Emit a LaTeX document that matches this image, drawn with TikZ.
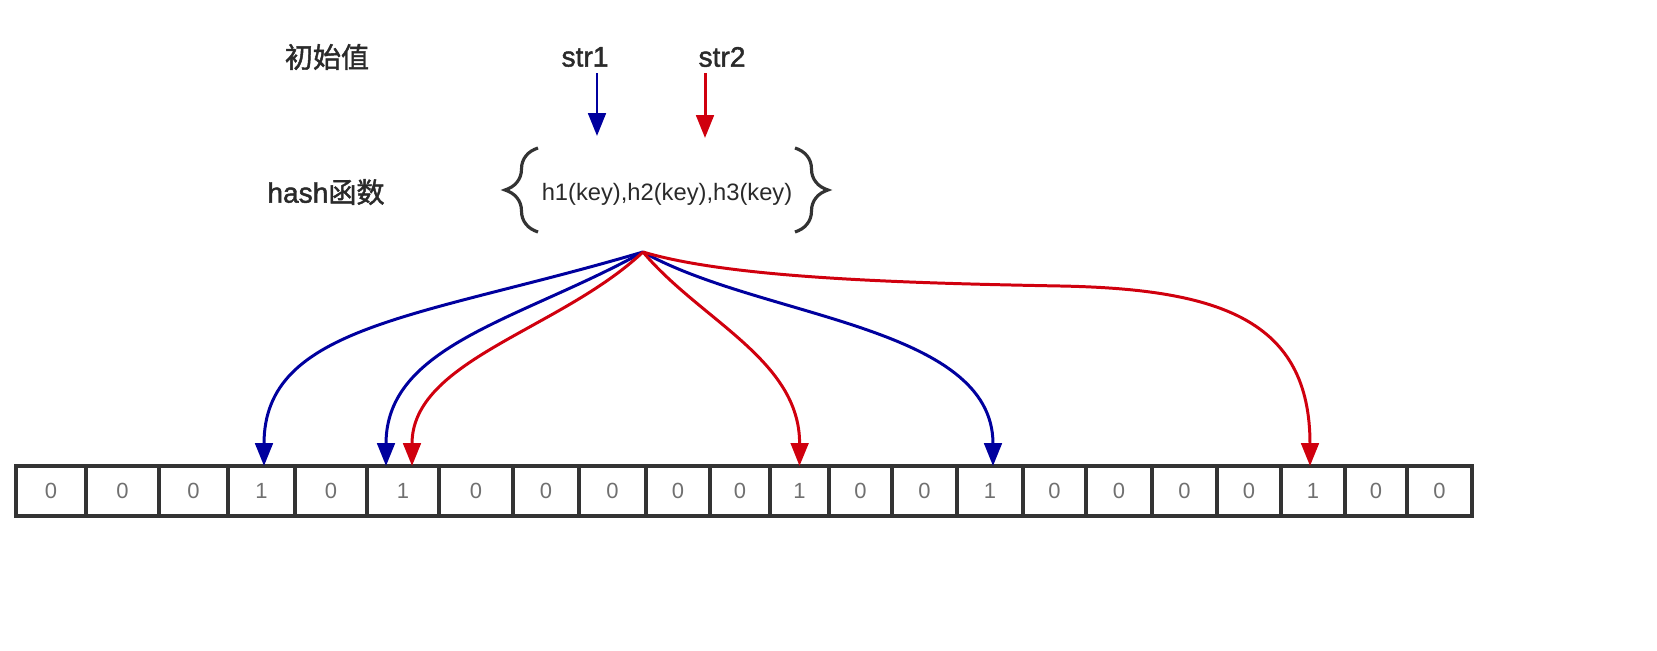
\documentclass[tikz,border=0pt]{standalone}
\usepackage{fontspec}
\setmainfont{Liberation Sans}
\newfontfamily\labfont[FakeBold=1.6]{Liberation Sans}
\newfontfamily\labcjk[FakeBold=1.6]{Noto Sans CJK SC}
\usetikzlibrary{arrows.meta,decorations.pathreplacing}
\definecolor{hblue}{HTML}{00009E}
\definecolor{hred}{HTML}{D0000E}
\definecolor{cellline}{HTML}{333333}
\definecolor{digit}{HTML}{707070}
\definecolor{labtext}{HTML}{2A2A2A}
\begin{document}
\begin{tikzpicture}[x=0.02cm,y=-0.02cm,
  cell/.style={draw=cellline,line width=1.8pt,inner sep=0pt,outer sep=0pt,minimum height=1cm,text=digit,font=\fontsize{12.5}{14}\selectfont},
  lab/.style={font=\labfont\fontsize{16}{18}\selectfont,text=labtext},
  harr/.style={line width=1.7pt,-{Triangle[length=13pt,width=10pt]}},
  brc/.style={decorate,decoration={brace,amplitude=0.66cm},line width=1.8pt,draw=cellline}]
\useasboundingbox (0,0) rectangle (1657,651);

% labels
\node[lab] (init) at (327,57) {\labcjk 初始值};
\node[lab] (s1) at (585,57) {str1};
\node[lab] (s2) at (722,57) {str2};
\node[lab] (hashf) at (326,192) {hash{\labcjk 函数}};
\node[font=\fontsize{13.5}{16}\selectfont,text=labtext] (h) at (667,194) {h1(key),h2(key),h3(key)};

% braces
\draw[brc] (538,232) -- (538,148);
\draw[brc] (795,148) -- (795,232);

% top arrows
\coordinate (b1) at (597,136);
\coordinate (b2) at (705,138);
\draw[harr,hblue] (s1.south -| b1) -- (b1);
\draw[harr,hred] (s2.south -| b2) -- (b2);

% bit array
\foreach \a/\b/\v [count=\i from 0] in {16/86/0, 86/159/0, 159/228/0, 228/295/1, 295/367/0, 367/439/1, 439/513/0, 513/579/0, 579/646/0, 646/710/0, 710/770/0, 770/829/1, 829/892/0, 892/957/0, 957/1023/1, 1023/1086/0, 1086/1152/0, 1152/1217/0, 1217/1281/0, 1281/1345/1, 1345/1407/0, 1407/1472/0} {
  \pgfmathsetmacro\w{(\b-\a)*0.02}
  \node[cell,minimum width=\w cm] (c\i) at ({(\a+\b)/2},491) {\v};
}

% hash curves
\coordinate (src) at (643,252);
\coordinate (t1) at ([xshift=0.05cm]c3.north);
\coordinate (t2) at ([xshift=-0.34cm]c5.north);
\coordinate (t3) at ([xshift=0.18cm]c5.north);
\coordinate (t4) at (c11.north);
\coordinate (t5) at ([xshift=0.06cm]c14.north);
\coordinate (t6) at ([xshift=-0.06cm]c19.north);
\coordinate (m6) at (1060,286);

\draw[harr,hblue] (src) .. controls (420,318) and (264,325) .. (t1);
\draw[harr,hblue] (src) .. controls (520,320) and (386,345) .. (t2);
\draw[harr,hblue] (src) .. controls (760,318) and (993,325) .. (t5);
\draw[harr,hred] (src) .. controls (560,330) and (412,360) .. (t3);
\draw[harr,hred] (src) .. controls (700,320) and (800,360) .. (t4);
\draw[harr,hred] (src) .. controls (730,278) and (900,283) .. (m6) .. controls (1220,289) and (1310,320) .. (t6);
\end{tikzpicture}
\end{document}
